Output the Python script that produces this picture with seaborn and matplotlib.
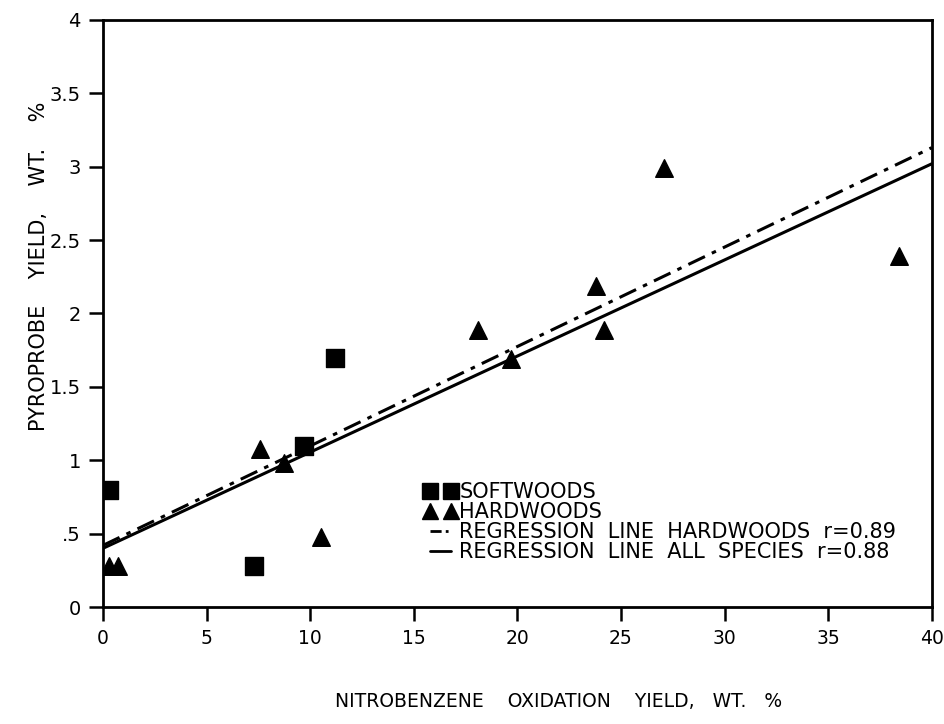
import numpy as np
import pandas as pd
import matplotlib
matplotlib.use("Agg")
import matplotlib.pyplot as plt
import seaborn as sns
from matplotlib.lines import Line2D

sns.set_theme(style="white")
plt.rcParams['font.family'] = ['DejaVu Sans']
plt.rcParams['text.color'] = 'black'

# Data
soft_x = [0.3, 7.3, 9.7, 11.2]
soft_y = [0.80, 0.28, 1.10, 1.70]
hard_x = [0.3, 0.7, 7.6, 8.75, 10.5, 18.1, 19.7, 23.8, 24.2, 27.1, 38.4]
hard_y = [0.28, 0.28, 1.08, 0.98, 0.48, 1.89, 1.69, 2.19, 1.89, 2.99, 2.39]
line_x = [0, 40]
hw_line_y = [0.42, 3.13]
all_line_y = [0.40, 3.02]
x_ticks = [0, 5, 10, 15, 20, 25, 30, 35, 40]
x_ticklabels = ["0", "5", "10", "15", "20", "25", "30", "35", "40"]
y_ticks = [0, 0.5, 1, 1.5, 2, 2.5, 3, 3.5, 4]
y_ticklabels = ["0", ".5", "1", "1.5", "2", "2.5", "3", "3.5", "4"]

fig = plt.figure(figsize=(9.45, 7.24), dpi=100)
ax = fig.add_axes([0.109, 0.1616, 0.877, 0.8108])

dashdot = (0, (6, 2.5, 1.5, 2.5))
sns.lineplot(x=line_x, y=hw_line_y, ax=ax, color="black", lw=2.2,
             dashes=False, linestyle=dashdot)
sns.lineplot(x=line_x, y=all_line_y, ax=ax, color="black", lw=2.2)
sns.scatterplot(x=soft_x, y=soft_y, ax=ax, marker="s", s=150, color="black",
                edgecolor="black", zorder=5)
sns.scatterplot(x=hard_x, y=hard_y, ax=ax, marker="^", s=160, color="black",
                edgecolor="black", zorder=5)

ax.set_xlim(0, 40)
ax.set_ylim(0, 4)
ax.set_xticks(x_ticks)
ax.set_xticklabels(x_ticklabels, fontsize=13.5)
ax.set_yticks(y_ticks)
ax.set_yticklabels(y_ticklabels, fontsize=14)
ax.tick_params(axis="both", direction="out", length=10, width=1.8, color="black",
               labelcolor="black", bottom=True, left=True, pad=6)
for sp in ax.spines.values():
    sp.set_color("black")
    sp.set_linewidth(2)

ax.set_xlabel("NITROBENZENE    OXIDATION    YIELD,   WT.   %", fontsize=13.5, color="black")
ax.xaxis.set_label_coords(0.55, -0.145)
ax.set_ylabel("PYROPROBE    YIELD,    WT.    %", fontsize=15, color="black")
ax.yaxis.set_label_coords(-0.065, 0.58)

handles = [
    Line2D([0], [0], marker="s", color="black", linestyle="none", markersize=11),
    Line2D([0], [0], marker="^", color="black", linestyle="none", markersize=12),
    Line2D([0], [0], color="black", lw=2.0, linestyle=(0, (4, 1.5, 1, 1.5))),
    Line2D([0], [0], color="black", lw=2.0),
]
labels = ["SOFTWOODS", "HARDWOODS",
          "REGRESSION  LINE  HARDWOODS  r=0.89",
          "REGRESSION  LINE  ALL  SPECIES  r=0.88"]
leg = ax.legend(handles, labels, loc="upper left", bbox_to_anchor=(0.387, 0.213),
                frameon=False, fontsize=15, numpoints=2, handlelength=1.6,
                handletextpad=0.1, labelspacing=0.0, borderaxespad=0, borderpad=0,
                labelcolor="black")

fig.savefig("out.png", dpi=100)
